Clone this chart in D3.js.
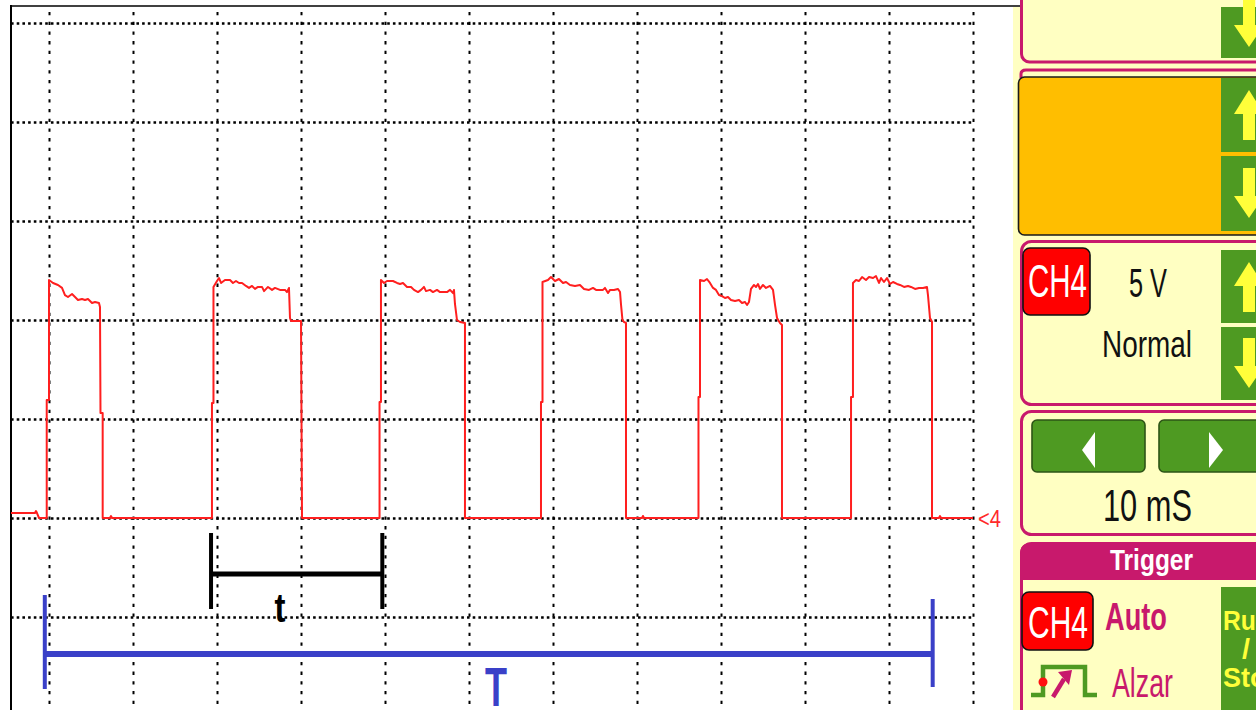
<!DOCTYPE html>
<html>
<head>
<meta charset="utf-8">
<script src="https://cdn.jsdelivr.net/npm/d3@7"></script>
<style>
  html, body { margin: 0; padding: 0; background: #ffffff; }
  svg { display: block; }
  text { font-family: "Liberation Sans", Arial, "DejaVu Sans", sans-serif; }
</style>
</head>
<body>
<svg id="scope" width="1256" height="710"></svg>
<script>
// CH4 trace: time in ms (0 = first graticule line) and voltage in volts
const traceMs = [
  -4.52, -1.67, -1.55, -1.43, -1.19, -0.27, -0.27, 0, 0,
  0.48, 1.07, 1.55, 1.90, 2.26, 2.74, 3.10, 3.45, 3.93, 4.29, 4.64, 5.12, 5.48, 5.95, 6.07, 6.13, 6.39, 6.39,
  7.26, 7.38, 7.50,
  19.40, 19.40, 19.58, 19.58, 20.00, 20.24, 20.48, 20.95, 21.55, 21.90, 22.26, 22.62, 22.98, 23.45, 23.81, 24.17,
  24.52, 24.88, 25.36, 25.60, 26.07, 26.55, 26.90, 27.50, 28.10, 28.33, 28.57, 28.69, 28.81, 30.00, 30.12,
  39.35, 39.35, 39.52, 39.52, 39.88, 40.24, 40.95, 41.43, 41.79, 42.14, 42.62, 43.10, 43.45, 43.93, 44.29, 44.64,
  44.88, 45.36, 45.71, 46.19, 46.55, 47.38, 47.74, 48.10, 48.21, 48.33, 48.57, 48.93, 49.52, 49.52,
  58.57, 58.57, 58.75, 58.75, 59.40, 59.76, 60.24, 60.71, 61.19, 61.55, 62.02, 62.62, 63.21, 63.69, 64.29, 64.76,
  65.12, 65.95, 66.19, 66.55, 66.79, 67.26, 67.74, 67.98, 68.10, 68.27, 68.45, 68.69, 68.69,
  70.60, 70.71, 70.83,
  77.32, 77.32, 77.50, 77.50, 77.98, 78.33, 78.69, 79.05, 79.40, 79.76, 80.12, 80.48, 80.83, 81.19, 81.67, 82.14,
  82.50, 82.86, 83.10, 83.33, 83.57, 83.93, 84.17, 84.40, 84.64, 85.00, 85.36, 85.83, 86.19, 86.43, 86.67, 87.02,
  87.26, 87.26,
  95.48, 95.48, 95.71, 95.71, 96.07, 96.43, 96.79, 97.26, 97.62, 98.10, 98.45, 98.81, 99.05, 99.40, 99.76, 100.12,
  100.48, 100.95, 101.31, 101.79, 102.26, 102.62, 103.10, 103.57, 104.05, 104.52, 104.64, 104.88, 105.12, 105.12,
  105.95, 106.07, 106.19, 110.00
];
const traceVolts = [
  0.25, 0.25, 0.35, 0.25, 0, 0, 5.96, 5.96, 12.02,
  11.87, 11.77, 11.62, 11.26, 11.16, 11.31, 11.16, 11.01, 11.06, 11.01, 11.06, 10.86, 10.91, 10.86, 10.66, 5.30, 5.30, 0,
  0, 0.1, 0,
  0, 5.81, 5.81, 11.67, 11.97, 12.12, 11.87, 12.02, 12.02, 11.87, 11.97, 11.87, 11.87, 11.72, 11.62, 11.72,
  11.57, 11.67, 11.67, 11.46, 11.67, 11.52, 11.62, 11.52, 11.52, 11.41, 11.62, 10.10, 9.95, 9.95, 0,
  0, 5.86, 5.86, 12.02, 11.87, 11.97, 11.97, 11.87, 11.82, 11.87, 11.67, 11.67, 11.52, 11.41, 11.52, 11.67,
  11.46, 11.52, 11.41, 11.52, 11.41, 11.41, 11.52, 11.36, 11.52, 10.81, 10.00, 9.90, 9.85, 0,
  0, 5.86, 5.86, 11.92, 12.02, 12.17, 11.97, 12.07, 11.87, 11.92, 11.77, 11.72, 11.77, 11.57, 11.52, 11.62,
  11.52, 11.52, 11.62, 11.36, 11.52, 11.52, 11.57, 11.41, 10.76, 10.00, 9.90, 9.85, 0,
  0, 0.1, 0,
  0, 6.11, 6.11, 12.02, 11.97, 12.07, 11.87, 11.62, 11.52, 11.26, 11.21, 11.11, 11.16, 11.01, 10.96, 11.01,
  10.86, 10.91, 10.76, 10.91, 11.57, 11.77, 11.67, 11.82, 11.57, 11.77, 11.62, 11.72, 11.52, 10.76, 10.10, 9.85,
  9.75, 0,
  0, 6.11, 6.11, 11.87, 12.02, 11.97, 12.17, 12.02, 12.17, 12.12, 12.22, 11.87, 12.12, 11.92, 12.12, 11.82,
  11.92, 11.82, 11.77, 11.67, 11.72, 11.67, 11.57, 11.62, 11.62, 11.67, 11.26, 10.10, 9.90, 0,
  0, 0.1, 0, 0
];

// graticule: 10 ms per division horizontally, 5 V per division vertically
const timeTicks = [0, 10, 20, 30, 40, 50, 60, 70, 80, 90, 100, 110];
const voltTicks = [-5, 0, 5, 10, 15, 20, 25];

// measurement brackets (ms): one cycle "t" and the whole burst "T"
const cycleSpan = [19.29, 39.68];
const burstSpan = [-0.50, 105.20];

// control panel readouts
const channelName = "CH4";
const voltsPerDiv = "5 V";
const couplingMode = "Normal";
const timePerDiv = "10 mS";
const triggerTitle = "Trigger";
const triggerMode = "Auto";
const triggerEdge = "Alzar";
const runStopLines = ["Run", "/", "Stop"];

const svg = d3.select("#scope");

const x = d3.scaleLinear().domain([0, 110]).range([49, 973]);
const y = d3.scaleLinear().domain([-5, 25]).range([617, 23]);

const trace = traceMs.map((t, i) => ({ t, v: traceVolts[i] }));

// ---------- graticule ----------
const gx = svg.append("g").attr("transform", "translate(0,12)")
  .call(d3.axisBottom(x).tickValues(timeTicks).tickSize(698).tickFormat(""));
gx.select(".domain").remove();
gx.selectAll(".tick line")
  .attr("stroke", "#000").attr("stroke-width", 2)
  .attr("stroke-dasharray", "3.3,6.4");

const gy = svg.append("g").attr("transform", "translate(11,0)")
  .call(d3.axisRight(y).tickValues(voltTicks).tickSize(962).tickFormat(""));
gy.select(".domain").remove();
gy.selectAll(".tick line")
  .attr("stroke", "#000").attr("stroke-width", 2.3)
  .attr("stroke-dasharray", "2.6,3.1");

// screen frame (left and top edges)
svg.append("line").attr("x1", 11).attr("x2", 11).attr("y1", 5).attr("y2", 710)
  .attr("stroke", "#000").attr("stroke-width", 2);
svg.append("line").attr("x1", 10).attr("x2", 1256).attr("y1", 6).attr("y2", 6)
  .attr("stroke", "#000").attr("stroke-width", 1.6);

// ---------- trace ----------
svg.append("path")
  .datum(trace)
  .attr("fill", "none")
  .attr("stroke", "#ff1f1f")
  .attr("stroke-width", 2)
  .attr("stroke-linejoin", "round")
  .attr("d", d3.line().x(d => x(d.t)).y(d => y(d.v)));

// text squeezed horizontally to a given width (narrow display font)
function narrowText(parent, txt, tx, ty, width, fs, fill, weight) {
  const g = parent.append("g");
  const t = g.append("text").attr("x", 0).attr("y", 0)
    .attr("font-size", fs).attr("fill", fill).attr("font-weight", weight || "normal")
    .text(txt);
  const natural = t.node().getComputedTextLength() || width;
  g.attr("transform", `translate(${tx},${ty}) scale(${width / natural},1)`);
  return g;
}

// channel ground marker
narrowText(svg, "<4", 978, 527, 23, 24, "#ff2a2a");

// ---------- measurement brackets ----------
const cyc = svg.append("g").attr("stroke", "#000").attr("stroke-linecap", "butt");
cyc.append("line").attr("x1", x(cycleSpan[0])).attr("x2", x(cycleSpan[1]))
  .attr("y1", 574).attr("y2", 574).attr("stroke-width", 5);
cyc.selectAll("line.end").data(cycleSpan).join("line").attr("class", "end")
  .attr("x1", d => x(d)).attr("x2", d => x(d))
  .attr("y1", 533).attr("y2", 609).attr("stroke-width", 4);
narrowText(svg, "t", 274.5, 622, 11, 40, "#000", "bold");

const blue = "#3a40c8";
const burst = svg.append("g").attr("stroke", blue);
burst.append("line").attr("x1", x(burstSpan[0])).attr("x2", x(burstSpan[1]))
  .attr("y1", 654).attr("y2", 654).attr("stroke-width", 6);
burst.append("line").attr("x1", x(burstSpan[0])).attr("x2", x(burstSpan[0]))
  .attr("y1", 595).attr("y2", 689).attr("stroke-width", 4);
burst.append("line").attr("x1", x(burstSpan[1])).attr("x2", x(burstSpan[1]))
  .attr("y1", 599).attr("y2", 687).attr("stroke-width", 4);
narrowText(svg, "T", 485, 706, 22, 55, blue, "bold");

// ---------- control panel ----------
const pale = "#ffffc2";
const magenta = "#c8196c";
const green = "#4e9a22";
const arrowYellow = "#ffff3a";
const orange = "#ffbe00";

const panel = svg.append("g");
panel.append("rect").attr("x", 1013).attr("y", 7).attr("width", 243).attr("height", 703).attr("fill", pale);

function upArrow(cx, tip) {
  return `M${cx},${tip} L${cx + 15},${tip + 24} L${cx + 6},${tip + 24} L${cx + 6},${tip + 50} L${cx - 6},${tip + 50} L${cx - 6},${tip + 24} L${cx - 15},${tip + 24} Z`;
}
function downArrow(cx, tip) {
  return `M${cx},${tip} L${cx + 15},${tip - 22} L${cx + 6},${tip - 22} L${cx + 6},${tip - 50} L${cx - 6},${tip - 50} L${cx - 6},${tip - 22} L${cx - 15},${tip - 22} Z`;
}
function sideButton(y0, y1) {
  panel.append("rect").attr("x", 1221).attr("y", y0).attr("width", 40).attr("height", y1 - y0).attr("fill", green);
}

// top box (scrolled partly out of view)
panel.append("rect").attr("x", 1021.5).attr("y", -20).attr("width", 250).attr("height", 82)
  .attr("rx", 8).attr("fill", pale).attr("stroke", magenta).attr("stroke-width", 3);
sideButton(7, 58);
panel.append("path").attr("d", downArrow(1249, 47)).attr("fill", arrowYellow);

// orange box
panel.append("path").attr("d", "M1021,78 L1021,74 Q1021,70 1026,70 L1256,70")
  .attr("fill", "none").attr("stroke", magenta).attr("stroke-width", 3);
panel.append("rect").attr("x", 1018.5).attr("y", 77).attr("width", 250).attr("height", 158)
  .attr("rx", 6).attr("fill", orange).attr("stroke", "#1a1a1a").attr("stroke-width", 1.6);
sideButton(78, 152);
sideButton(156, 231);
panel.append("path").attr("d", upArrow(1249, 90)).attr("fill", arrowYellow);
panel.append("path").attr("d", downArrow(1249, 218)).attr("fill", arrowYellow);

// channel box
panel.append("rect").attr("x", 1021.5).attr("y", 241.5).attr("width", 250).attr("height", 163)
  .attr("rx", 10).attr("fill", pale).attr("stroke", magenta).attr("stroke-width", 3);
sideButton(250, 323);
sideButton(327, 400);
panel.append("path").attr("d", upArrow(1249, 262)).attr("fill", arrowYellow);
panel.append("path").attr("d", downArrow(1249, 388)).attr("fill", arrowYellow);

function badge(x0, y0, w, h, tx, ty, tw, fs) {
  panel.append("rect").attr("x", x0).attr("y", y0).attr("width", w).attr("height", h)
    .attr("rx", 7).attr("fill", "#ff0000").attr("stroke", "#111").attr("stroke-width", 1.6);
  narrowText(panel, channelName, tx, ty, tw, fs, "#ffffff");
}
badge(1023, 248, 67, 67, 1028, 297, 59, 46);

narrowText(panel, voltsPerDiv, 1129, 297, 38, 41, "#111");
narrowText(panel, couplingMode, 1102, 357, 90, 37, "#111");

// timebase box
panel.append("rect").attr("x", 1021.5).attr("y", 411.5).attr("width", 250).attr("height", 123)
  .attr("rx", 10).attr("fill", pale).attr("stroke", magenta).attr("stroke-width", 3);
panel.append("rect").attr("x", 1032).attr("y", 420).attr("width", 113).attr("height", 52)
  .attr("rx", 5).attr("fill", green).attr("stroke", "#2d5417").attr("stroke-width", 1.6);
panel.append("rect").attr("x", 1159).attr("y", 420).attr("width", 113).attr("height", 52)
  .attr("rx", 5).attr("fill", green).attr("stroke", "#2d5417").attr("stroke-width", 1.6);
panel.append("path").attr("d", "M1082,450 L1095,432 L1095,468 Z").attr("fill", "#ffffff");
panel.append("path").attr("d", "M1223,450 L1209,432 L1209,468 Z").attr("fill", "#ffffff");
narrowText(panel, timePerDiv, 1103, 521, 89, 44, "#111");

// trigger box
panel.append("rect").attr("x", 1021.5).attr("y", 543.5).attr("width", 250).attr("height", 200)
  .attr("rx", 10).attr("fill", pale).attr("stroke", magenta).attr("stroke-width", 3);
panel.append("path").attr("d", "M1020,580 L1020,554 Q1020,543 1031,543 L1256,543 L1256,580 Z")
  .attr("fill", magenta);
narrowText(panel, triggerTitle, 1110, 570, 83, 29, "#ffffff", "bold");

badge(1022, 592, 71, 58, 1028, 638, 60, 45);
narrowText(panel, triggerMode, 1105, 630, 62, 38, magenta, "bold");

// rising-edge icon
panel.append("path").attr("d", "M1031,695 L1043,695 L1043,667 L1085,667 L1085,695 L1097,695")
  .attr("fill", "none").attr("stroke", green).attr("stroke-width", 4.5);
panel.append("circle").attr("cx", 1043).attr("cy", 682).attr("r", 4.5).attr("fill", "#ff1010");
panel.append("line").attr("x1", 1053).attr("y1", 697).attr("x2", 1064).attr("y2", 679)
  .attr("stroke", magenta).attr("stroke-width", 4.5);
panel.append("path").attr("d", "M1058,672 L1072,670 L1069,685 Z").attr("fill", magenta);
narrowText(panel, triggerEdge, 1112, 697, 61, 40, magenta);

// run/stop key
panel.append("rect").attr("x", 1221).attr("y", 587).attr("width", 40).attr("height", 130).attr("fill", green);
const rs = [[1223, 630, 48], [1242, 658, 8], [1223, 687, 60]];
runStopLines.forEach((txt, i) => {
  narrowText(panel, txt, rs[i][0], rs[i][1], rs[i][2], 28, arrowYellow, "bold");
});
</script>
</body>
</html>
